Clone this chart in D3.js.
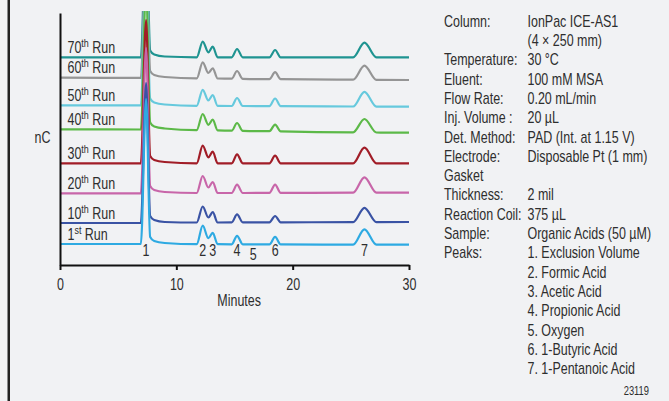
<!DOCTYPE html>
<html>
<head>
<meta charset="utf-8">
<script src="https://cdn.jsdelivr.net/npm/d3@7"></script>
<style>
  html, body { margin: 0; padding: 0; background: #f1f2f4; }
  svg { display: block; font-family: "Liberation Sans", Arial, sans-serif; }
  .lbl { fill: #2e2e2e; }
</style>
</head>
<body>
<div id="chart"></div>
<script>
// runs, drawn back to front
const runs = ["70", "60", "50", "40", "30", "20", "10", "1"];
const runSuffix = ["th", "th", "th", "th", "th", "th", "th", "st"];
const runColors = ["#1f9491", "#959595", "#66c9dd", "#5cb948", "#a11d27", "#c866a9", "#3a53a4", "#2eaae2"];

// retention times (min) where the traces were read
const keyTimes = [0, 6.95, 7.4, 7.75, 8.1, 9.0, 11.75, 12.27, 12.75, 13.13, 13.55,
  14.76, 15.22, 15.71, 18.0, 18.49, 18.97, 25.2, 26.17, 27.2, 30];

// signal (nC, stacked offsets) at keyTimes, one list per run
const run70 = [207.7, 207.7, 340, 214.5, 210.5, 208.5, 207.7, 223.4, 212.7, 218.4, 207.7, 207.7, 216, 207.7, 207.7, 215, 207.7, 207.7, 222.4, 207.7, 207.7];
const run60 = [187.3, 187.1, 320, 194, 190, 188, 186.6, 202.6, 192, 196.6, 186.5, 186.3, 194, 186.2, 185.8, 192.8, 185.8, 185.3, 199.3, 185.1, 185];
const run50 = [159.7, 159.6, 300, 166.5, 162.5, 160.5, 159.2, 175.2, 164.6, 169.8, 159.1, 159, 167, 159, 158.8, 166.5, 158.8, 158.5, 173.1, 158.4, 158.3];
const run40 = [135.7, 135.5, 280, 142.5, 138.5, 136.5, 134.8, 151, 140.2, 145.4, 134.6, 134.3, 142, 134.2, 133.8, 140.4, 133.7, 132.7, 146, 132.5, 132.3];
const run30 = [101.7, 101.7, 245, 109, 105, 103, 101.7, 119.4, 107.7, 113.4, 101.7, 101.7, 110.7, 101.7, 101.7, 109.4, 101.7, 101.7, 117.4, 101.7, 101.7];
const run20 = [71.7, 71.7, 217, 79, 75, 73, 72, 89, 77.5, 83, 72, 72, 80.3, 72, 72.1, 80.4, 72.1, 72.3, 87.6, 72.3, 72.3];
const run10 = [42, 42, 182, 49, 45, 43, 42.5, 58.5, 47.5, 52.8, 42.5, 42.6, 50.6, 42.6, 42.7, 49, 42.7, 42.9, 57.2, 42.9, 43];
const run1 = [21, 21, 166, 28, 24, 22, 20.8, 39.3, 26.8, 32.1, 20.8, 20.7, 29.2, 20.7, 20.6, 28.1, 20.6, 20.4, 35.7, 20.4, 20.3];
const runSignals = [run70, run60, run50, run40, run30, run20, run10, run1];

// peak numbers
const peakNames = ["1", "2", "3", "4", "5", "6", "7"];
const peakTimes = [7.4, 12.27, 13.13, 15.22, 16.6, 18.49, 26.17];

const xTicks = [0, 10, 20, 30];

// conditions panel
const condLabels = ["Column:", "", "Temperature:", "Eluent:", "Flow Rate:", "Inj. Volume :",
  "Det. Method:", "Electrode:", "Gasket", "Thickness:", "Reaction Coil:", "Sample:", "Peaks:",
  "", "", "", "", "", ""];
const condValues = ["IonPac ICE-AS1", "(4 \u00d7 250 mm)", "30 \u00b0C", "100 mM MSA", "0.20 mL/min",
  "20 \u00b5L", "PAD (Int. at 1.15 V)", "Disposable Pt (1 mm)", "", "2 mil", "375 \u00b5L",
  "Organic Acids (50 \u00b5M)", "1. Exclusion Volume", "2. Formic Acid", "3. Acetic Acid",
  "4. Propionic Acid", "5. Oxygen", "6. 1-Butyric Acid", "7. 1-Pentanoic Acid"];

const W = 669, H = 401;
const margin = { top: 13, left: 60 };
const width = 349, height = 252;
const narrow = 0.78; // condensed look

const svg = d3.select("#chart").append("svg")
  .attr("width", W)
  .attr("height", H);

svg.append("rect").attr("width", W).attr("height", H).attr("fill", "#f1f2f4");
svg.append("rect").attr("x", 7.5).attr("y", 0).attr("width", 2.5).attr("height", H).attr("fill", "#222");

// text squeezed horizontally around its anchor
function label(parent, x, y, size, anchor) {
  return parent.append("text")
    .attr("class", "lbl")
    .attr("transform", `translate(${x},${y}) scale(${narrow},1)`)
    .attr("text-anchor", anchor || "start")
    .style("font-size", size + "px");
}

const xScale = d3.scaleLinear().domain([0, 30]).range([margin.left, margin.left + width]);
const yScale = d3.scaleLinear().domain([0, 252]).range([margin.top + height, margin.top]);

// clip the exclusion peak at the top of the plot
svg.append("clipPath").attr("id", "plotClip")
  .append("rect")
  .attr("x", margin.left).attr("y", 11)
  .attr("width", width + 4).attr("height", height - 1);

const line = d3.line()
  .x(d => xScale(d[0]))
  .y(d => yScale(d[1]))
  .curve(d3.curveMonotoneX);

const traces = svg.append("g").attr("clip-path", "url(#plotClip)");
runSignals.forEach((vals, i) => {
  traces.append("path")
    .datum(keyTimes.map((t, j) => [t, vals[j]]))
    .attr("fill", "none")
    .attr("stroke", runColors[i])
    .attr("stroke-width", 2.2)
    .attr("stroke-linejoin", "round")
    .attr("d", line);
});

// run labels sit just above each trace's baseline
runSignals.forEach((vals, i) => {
  const t = label(svg, 67.5, yScale(vals[0]) - 4.5, 16);
  t.append("tspan").text(runs[i]);
  t.append("tspan").attr("dy", -6).style("font-size", "11.5px").text(runSuffix[i]);
  t.append("tspan").attr("dy", 6).text(" Run");
});

// axes
const xAxis = svg.append("g")
  .attr("transform", `translate(0,${margin.top + height})`)
  .call(d3.axisBottom(xScale).tickValues(xTicks).tickSize(5).tickSizeOuter(0).tickPadding(9));
xAxis.select(".domain").attr("stroke", "#111").attr("stroke-width", 2);
xAxis.selectAll(".tick line").attr("stroke", "#111").attr("stroke-width", 2);
xAxis.selectAll(".tick text")
  .attr("fill", "#2e2e2e")
  .attr("transform", `scale(${narrow},1)`)
  .style("font-size", "16px")
  .style("font-family", "inherit");

const yAxis = svg.append("g")
  .attr("transform", `translate(${margin.left},0)`)
  .call(d3.axisLeft(yScale).tickValues([]).tickSizeOuter(0));
yAxis.select(".domain").attr("stroke", "#111").attr("stroke-width", 2);

label(svg, xScale(15.4), 305.5, 16, "middle").text("Minutes");
label(svg, 42.5, 142.5, 16, "middle").text("nC");

// peak numbers
peakNames.forEach((d, i) => {
  label(svg, xScale(peakTimes[i]), d === "5" ? 259.5 : 255.5, 16, "middle").text(d);
});

// conditions
condLabels.forEach((d, i) => {
  const y = 26.7 + i * 19.3;
  if (d) label(svg, 444, y, 16).text(d);
  if (condValues[i]) label(svg, 527.5, y, 16).text(condValues[i]);
});

label(svg, 649, 394.5, 12, "end").text("23119");
</script>
</body>
</html>
